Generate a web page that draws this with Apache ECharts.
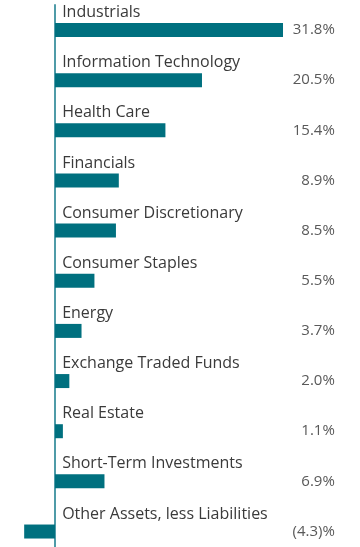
<!DOCTYPE html>
<html><head><meta charset="utf-8">
<script src="https://cdn.jsdelivr.net/npm/echarts@6/dist/echarts.min.js"></script>
<style>html,body{margin:0;padding:0;background:#fff}#c{width:360px;height:547px}</style>
</head><body><div id="c"></div>
<script>
const categories = ["Industrials","Information Technology","Health Care","Financials","Consumer Discretionary","Consumer Staples","Energy","Exchange Traded Funds","Real Estate","Short-Term Investments","Other Assets, less Liabilities"];
const values = [31.8,20.5,15.4,8.9,8.5,5.5,3.7,2.0,1.1,6.9,-4.3];
const valueLabels = ["31.8%","20.5%","15.4%","8.9%","8.5%","5.5%","3.7%","2.0%","1.1%","6.9%","(4.3)%"];

const chart = echarts.init(document.getElementById('c'), null, {renderer:'canvas'});
const font = '"Open Sans", sans-serif';
chart.setOption({
  animation:false,
  grid:{left:19.15, right:18.2, top:4.9, height:551.7, containLabel:false, outerBoundsMode:'none'},
  xAxis:{type:'value', min:-5, max:40, show:false},
  yAxis:[{
    type:'category', data:categories, inverse:true,
    axisLine:{show:true, onZero:true, lineStyle:{color:'#4f9ba8', width:2}},
    axisTick:{show:false},
    axisLabel:{align:'left', margin:-43, verticalAlign:'bottom', padding:[0,0,8,0],
      fontFamily:font, fontSize:16, color:'#3a3a3a', lineHeight:19}
  },{
    type:'category', data:valueLabels, inverse:true, position:'right',
    axisLine:{show:false}, axisTick:{show:false},
    axisLabel:{align:'right', margin:-7, padding:[10,0,0,0],
      fontFamily:font, fontSize:15, color:'#595959'}
  }],
  series:[{
    type:'bar', data:values, barWidth:14,
    itemStyle:{color:'#00707f'}
  }]
});
</script></body></html>
